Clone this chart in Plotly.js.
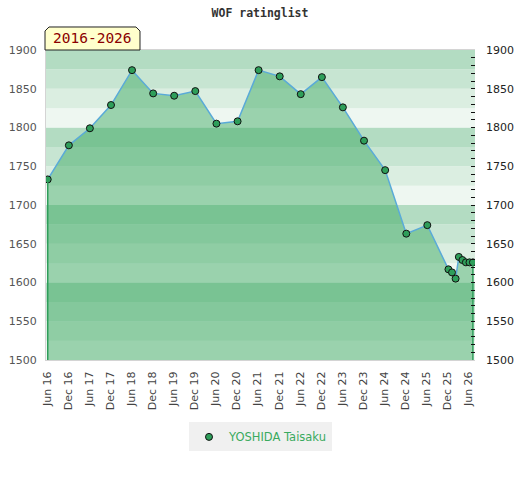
<!DOCTYPE html>
<html>
<head>
<meta charset="utf-8">
<script src="https://cdn.plot.ly/plotly-3.0.1.min.js"></script>
<style>html,body{margin:0;padding:0;background:#fff;}#chart{width:520px;height:480px;}</style>
</head>
<body>
<div id="chart"></div>
<script>
// ---- data ----
const dates = ['2016-06-07','2016-12-07','2017-06-07','2017-12-07','2018-06-07','2018-12-07',
  '2019-06-07','2019-12-07','2020-06-07','2020-12-07','2021-06-07','2021-12-07','2022-06-07',
  '2022-12-07','2023-06-07','2023-12-07','2024-06-07','2024-12-07','2025-06-07','2025-12-07',
  '2026-01-07','2026-02-07','2026-03-07','2026-04-07','2026-05-07','2026-06-07','2026-07-07'];
const ratings = [1733,1777,1799,1829,1874,1844,1841,1847,1805,1808,1874,1866,1843,1865,1826,
  1783,1745,1663,1674,1617,1613,1605,1633,1629,1626,1626,1626];
const playerName = 'YOSHIDA Taisaku';
const chartTitle = 'WOF ratinglist';
const periodLabel = '2016-2026';
const yMin = 1500, yMax = 1900;

// ---- background bands ----
const bandColors = ['#eef7f1','#dbeee1','#c7e5d2','#b3dcc2'];
const shapes = [];
for (let v = yMin, i = 0; v < yMax; v += 25, i++) {
  shapes.push({type:'rect', xref:'paper', yref:'y', x0:0, x1:1, y0:v, y1:v+25,
    fillcolor:bandColors[i % 4], line:{width:0}, layer:'below'});
}
// period label box with cut corners
const bx0 = -0.0023, bx1 = 0.2191, by0 = 1, by1 = 1.0742, cdx = 0.0093, cdy = 0.0129;
shapes.push({type:'path', xref:'paper', yref:'paper',
  path:`M ${bx0},${by0} L ${bx0},${by1-cdy} L ${bx0+cdx},${by1} L ${bx1-cdx},${by1} L ${bx1},${by1-cdy} L ${bx1},${by0} Z`,
  fillcolor:'#ffffcc', line:{color:'#222', width:1}});

const n = dates.length;
const markerStyle = {size:7, color:'#2e9e5a', line:{color:'#111', width:1}};
const traces = [
  {x:dates, y:ratings, type:'scatter', mode:'none', fill:'tozeroy',
   fillcolor:'rgba(50,164,90,0.45)', showlegend:false, hoverinfo:'skip'},
  {x:[dates[0],dates[0]], y:[ratings[0],yMin], yaxis:'y2', type:'scatter', mode:'lines',
   line:{color:'#2e9e5a', width:1.5}, showlegend:false, hoverinfo:'skip'},
  {x:[dates[n-1],dates[n-1]], y:[ratings[n-1],yMin], yaxis:'y2', type:'scatter', mode:'lines',
   line:{color:'#2e9e5a', width:1.5}, showlegend:false, hoverinfo:'skip'},
  {x:dates, y:ratings, type:'scatter', mode:'lines+markers', name:playerName,
   line:{color:'#5aaad8', width:1.5}, marker:markerStyle, showlegend:false},
  {x:[null], y:[null], type:'scatter', mode:'markers', name:playerName,
   marker:markerStyle, showlegend:true}
];

const layout = {
  width:520, height:480,
  margin:{l:46, r:45, t:50, b:120},
  paper_bgcolor:'#ffffff', plot_bgcolor:'#ffffff',
  font:{family:'DejaVu Sans', size:11, color:'#444'},
  title:{text:chartTitle, x:0.5, xanchor:'center', y:0.973, yanchor:'middle',
    font:{family:'DejaVu Sans Mono', size:11.5, weight:'bold', color:'#333'}},
  xaxis:{type:'date', range:['2016-05-23','2026-07-25'], tick0:'2016-06-01', dtick:'M6',
    tickformat:'%b %y', tickangle:-90, ticks:'', showgrid:false, zeroline:false,
    showline:true, linecolor:'#d4d4d4', linewidth:1, mirror:true,
    ticklabelstandoff:6, tickfont:{size:11, color:'#444'}},
  yaxis:{range:[yMin,yMax], dtick:50, ticks:'', showgrid:false, zeroline:false,
    showline:true, linecolor:'#d4d4d4', linewidth:1,
    ticklabelstandoff:6, tickfont:{size:11, color:'#555'}},
  yaxis2:{range:[yMin,yMax], overlaying:'y', side:'right', dtick:50, ticks:'inside',
    ticklen:4, tickcolor:'#111', tickwidth:1, showgrid:false, zeroline:false, showline:false,
    minor:{dtick:10, ticks:'inside', ticklen:4, tickcolor:'#111', tickwidth:1, showgrid:false},
    ticklabelstandoff:10, tickfont:{size:11, color:'#222'}},
  shapes:shapes,
  annotations:[{text:periodLabel, xref:'paper', yref:'paper', x:0.108, y:1.0387,
    xanchor:'center', yanchor:'middle', showarrow:false,
    font:{family:'DejaVu Sans Mono', size:14.5, color:'#8b0000'}}],
  legend:{orientation:'h', x:0.5, xanchor:'center', y:-0.248, yanchor:'middle',
    bgcolor:'#f0f0f0', font:{family:'DejaVu Sans', size:11.5, color:'#3aaa5e'},
    itemwidth:30}
};

Plotly.newPlot('chart', traces, layout, {staticPlot:true, displayModeBar:false});
</script>
</body>
</html>
